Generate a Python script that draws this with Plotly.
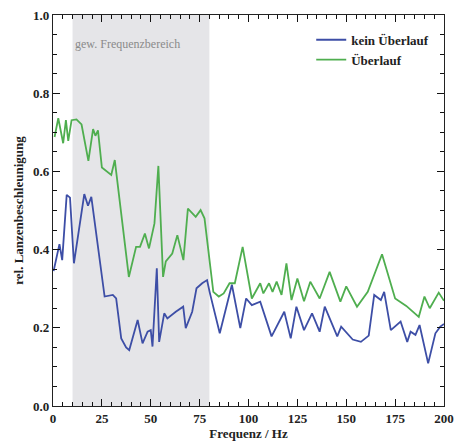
import plotly.graph_objects as go

# Data
freq_kein = [0.3, 3.3, 4.7, 7.0, 8.7, 10.7, 16.0, 17.9, 19.6, 26.4, 30.6, 32.3, 34.9, 37.4,
             39.0, 43.3, 45.8, 48.4, 50.0, 50.9, 53.1, 54.3, 56.9, 58.5, 62.8, 66.6, 67.9,
             71.2, 73.4, 76.3, 78.8, 80.2, 85.3, 91.5, 95.8, 98.8, 101.7, 106.0, 111.8,
             118.3, 121.6, 124.5, 128.4, 132.5, 136.4, 139.0, 145.4, 147.4, 153.3, 157.5,
             161.5, 164.3, 167.7, 169.4, 172.8, 177.8, 181.2, 182.9, 185.4, 187.5, 191.9,
             195.6, 198.1, 200.0]
val_kein = [0.345, 0.414, 0.373, 0.540, 0.533, 0.365, 0.542, 0.512, 0.535, 0.280, 0.284,
            0.275, 0.173, 0.150, 0.143, 0.220, 0.160, 0.190, 0.194, 0.152, 0.352, 0.164,
            0.237, 0.224, 0.241, 0.254, 0.199, 0.241, 0.301, 0.314, 0.322, 0.290, 0.186,
            0.310, 0.199, 0.275, 0.258, 0.267, 0.178, 0.241, 0.173, 0.254, 0.194, 0.237,
            0.190, 0.254, 0.178, 0.203, 0.170, 0.164, 0.180, 0.284, 0.271, 0.292, 0.194,
            0.216, 0.164, 0.190, 0.182, 0.207, 0.109, 0.186, 0.203, 0.210]

freq_ueber = [0.8, 2.7, 5.2, 6.6, 7.8, 9.5, 12.0, 14.6, 18.1, 20.5, 21.7, 23.0, 25.0, 29.8,
              31.6, 38.8, 42.5, 44.5, 47.0, 49.1, 51.9, 53.9, 56.3, 57.7, 61.0, 63.6, 66.7,
              69.0, 73.0, 75.5, 77.5, 82.0, 84.8, 87.3, 90.3, 93.0, 97.0, 101.7, 106.0,
              107.6, 110.5, 112.3, 114.4, 116.9, 119.4, 122.0, 125.0, 128.4, 131.6, 136.4,
              141.5, 147.0, 150.0, 155.5, 161.0, 168.3, 175.0, 180.7, 187.1, 190.0, 192.7,
              197.3, 200.0]
val_ueber = [0.688, 0.736, 0.672, 0.731, 0.678, 0.731, 0.733, 0.720, 0.627, 0.708, 0.691,
             0.705, 0.610, 0.591, 0.629, 0.330, 0.407, 0.407, 0.441, 0.403, 0.467, 0.614,
             0.330, 0.370, 0.390, 0.437, 0.373, 0.505, 0.484, 0.501, 0.480, 0.292, 0.280,
             0.288, 0.314, 0.314, 0.407, 0.275, 0.314, 0.288, 0.314, 0.292, 0.318, 0.284,
             0.365, 0.271, 0.326, 0.268, 0.318, 0.275, 0.343, 0.267, 0.306, 0.254, 0.292,
             0.388, 0.275, 0.256, 0.228, 0.280, 0.250, 0.290, 0.269]

band_lo, band_hi = 10, 80
band_label = "gew. Frequenzbereich"
x_tick_step = 25
y_tick_step = 0.2

FONT = "Liberation Serif"
BLUE = "#3d4ea6"
GREEN = "#4fae4f"
AX = "#222222"

fig = go.Figure()
fig.add_trace(go.Scatter(x=freq_kein, y=val_kein, mode="lines", name="kein Überlauf",
                         line=dict(color=BLUE, width=1.8)))
fig.add_trace(go.Scatter(x=freq_ueber, y=val_ueber, mode="lines", name="Überlauf",
                         line=dict(color=GREEN, width=1.8)))

fig.add_vrect(x0=band_lo, x1=band_hi, fillcolor="#e5e5e8", opacity=1, line_width=0,
              layer="below")
fig.add_annotation(x=band_lo, y=0.925, xref="x", yref="y", text=band_label,
                   showarrow=False, xanchor="left", yanchor="middle",
                   font=dict(family=FONT, size=12, color="#8a8a8a"))

axis_common = dict(showline=True, linecolor=AX, linewidth=1.3, mirror="allticks",
                   ticks="inside", ticklen=7, tickwidth=1.4, tickcolor="#111111",
                   showgrid=False, zeroline=False, ticklabeloverflow="allow",
                   tickfont=dict(family=FONT, size=13, color=AX, weight="bold"))

fig.update_xaxes(range=[0, 200], tickmode="linear", tick0=0, dtick=x_tick_step,
                 title=dict(text="Frequenz / Hz",
                            font=dict(family=FONT, size=13, color=AX, weight="bold"),
                            standoff=3),
                 minor=dict(tickmode="linear", dtick=5, ticks="inside", ticklen=4,
                            tickwidth=1.1, tickcolor="#111111", showgrid=False),
                 **axis_common)
fig.update_yaxes(range=[0, 1.0], tickmode="linear", tick0=0, dtick=y_tick_step,
                 tickformat=".1f",
                 title=dict(text="rel. Lanzenbeschleunigung",
                            font=dict(family=FONT, size=13, color=AX, weight="bold"),
                            standoff=6),
                 minor=dict(tickmode="linear", dtick=0.05, ticks="inside", ticklen=4,
                            tickwidth=1.1, tickcolor="#111111", showgrid=False),
                 **axis_common)

fig.update_layout(
    template="none",
    width=454, height=444,
    margin=dict(l=53, r=10, t=15, b=38, autoexpand=False),
    paper_bgcolor="white", plot_bgcolor="white",
    font=dict(family=FONT, color=AX),
    legend=dict(x=0.975, y=0.975, xanchor="right", yanchor="top",
                bgcolor="rgba(0,0,0,0)",
                font=dict(family=FONT, size=13, color=AX, weight="bold"),
                tracegroupgap=0, itemwidth=30),
)

fig.write_html("out.html")
